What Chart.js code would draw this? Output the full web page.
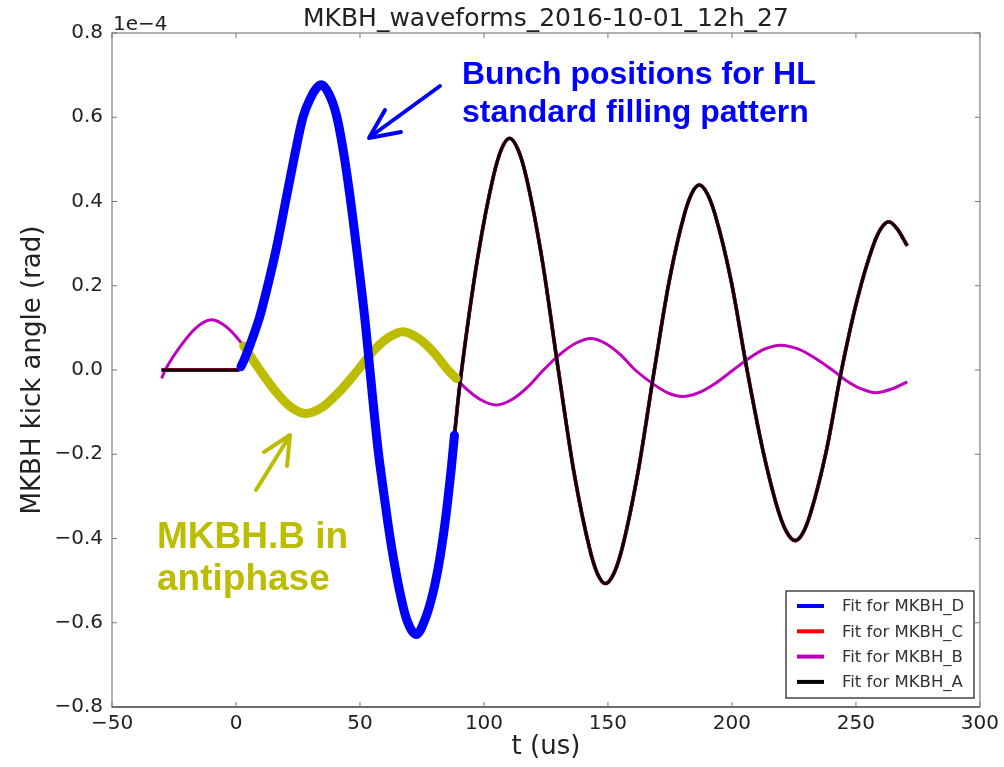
<!DOCTYPE html>
<html>
<head>
<meta charset="utf-8">
<script src="https://cdn.jsdelivr.net/npm/chart.js@4.4.1/dist/chart.umd.min.js"></script>
<style>
  html, body { margin: 0; padding: 0; background: #fff; }
  #wrap { width: 1004px; height: 767px; }
</style>
</head>
<body>
<div id="wrap"><canvas id="kickChart" width="1004" height="767"></canvas></div>
<script>
// valeurs (angle en 1e-4 rad, t en us)

// MKBH_A (C et D se superposent presque exactement)
const tA = [-30, 0.9, 2, 3, 6, 9.5, 13, 16.5, 20, 23.5, 27, 30, 32.3, 34.5,
  37.5, 40.5, 43, 45.8, 49.2, 52.3, 54,
  55.6, 57.3, 59.3, 61.3, 63.3, 66, 68.7, 72.7, 76.1, 79.4, 82.1, 84.1, 85.4, 86.8, 88.1, 89.5, 91,
  97.4, 103.9, 107.1, 110.3, 113.6, 116.9, 123.4, 130,
  136.3, 142.7, 145.8, 149, 152.3, 155.6, 162.1, 168.7,
  174.7, 180.8, 183.8, 186.8, 190, 193.2, 199.7, 206.1,
  212.6, 219, 222.3, 225.5, 228.6, 231.7, 238, 244.2,
  250.6, 257, 260.1, 263.3, 266.5, 270.7];
const kickA = [0, 0, 0.008, 0.02, 0.065, 0.125, 0.205, 0.295, 0.40, 0.505, 0.6, 0.645, 0.668, 0.677,
  0.655, 0.605, 0.53, 0.42, 0.261, 0.103, 0,
  -0.095, -0.19, -0.28, -0.365, -0.44, -0.525, -0.59, -0.628, -0.594, -0.53, -0.451, -0.372, -0.31, -0.235, -0.155, -0.075, 0,
  0.264, 0.462, 0.525, 0.55, 0.525, 0.462, 0.264, 0,
  -0.243, -0.426, -0.484, -0.507, -0.484, -0.426, -0.243, 0,
  0.211, 0.369, 0.419, 0.439, 0.419, 0.369, 0.211, 0,
  -0.194, -0.340, -0.387, -0.405, -0.387, -0.340, -0.194, 0,
  0.169, 0.296, 0.336, 0.352, 0.336, 0.295];
const kickC = kickA;
const kickD = kickA;

// MKBH_B
const tB = [-30, -28.5, -22.3, -16.1, -9.9, -3.4, 3.1, 9.6, 15.7, 21.9,
  28, 35.1, 42.1, 49.2, 55.2, 61.2, 67.3, 73.4, 79.4, 85.5,
  88.8, 92, 98.5, 105, 111.3, 117.7, 124, 130.4, 136.8, 143.2,
  149.1, 155.1, 161, 167.5, 173.7, 180.1, 186.9, 193.7, 200.5, 206.9,
  213.3, 219.7, 226.6, 233.6, 240.5, 246.3, 252.2, 258, 264.5, 270.7];
const kickB = [-0.02, 0, 0.057, 0.1, 0.119, 0.1, 0.057, 0, -0.049, -0.087,
  -0.103, -0.087, -0.049, 0, 0.044, 0.076, 0.091, 0.076, 0.044, 0,
  -0.02, -0.04, -0.07, -0.083, -0.07, -0.04, 0, 0.036, 0.063, 0.075,
  0.063, 0.036, 0, -0.03, -0.053, -0.063, -0.053, -0.03, 0, 0.028,
  0.05, 0.059, 0.05, 0.028, 0, -0.026, -0.045, -0.054, -0.045, -0.028];

// fenêtre des paquets (HL standard filling pattern)
const bunchFrom = 2, bunchTo = 88.1;
const antiFrom = 3, antiTo = 89;

const xTicks = [-50, 0, 50, 100, 150, 200, 250, 300];
const yTicks = [-0.8, -0.6, -0.4, -0.2, 0, 0.2, 0.4, 0.6, 0.8];

const legendItems = [
  { label: 'Fit for MKBH_D', color: '#0000ff' },
  { label: 'Fit for MKBH_C', color: '#ff0000' },
  { label: 'Fit for MKBH_B', color: '#bf00bf' },
  { label: 'Fit for MKBH_A', color: '#000000' }
];

const pts = (ts, vs) => ts.map((t, i) => ({ x: t, y: vs[i] }));
const within = (arr, a, b) => arr.filter(p => p.x >= a && p.x <= b);

// signe moins typographique comme matplotlib
const minus = s => s.replace('-', '\u2212');

const line = (ctx, x1, y1, x2, y2) => {
  ctx.beginPath(); ctx.moveTo(x1, y1); ctx.lineTo(x2, y2); ctx.stroke();
};

// cadre, petites graduations, légende et annotations
const decor = {
  id: 'decor',
  afterDatasetsDraw(chart) {
    const { ctx, chartArea: a, scales: { x, y } } = chart;
    ctx.save();
    ctx.lineWidth = 1.5;
    ctx.strokeStyle = '#9a9a9a';
    ctx.strokeRect(a.left, a.top, a.right - a.left, a.bottom - a.top);
    ctx.strokeStyle = '#555';
    line(ctx, a.left, a.bottom, a.right, a.bottom);

    ctx.strokeStyle = '#777';
    ctx.lineWidth = 1;
    xTicks.forEach(v => {
      const px = x.getPixelForValue(v);
      line(ctx, px, a.top, px, a.top + 5);
      line(ctx, px, a.bottom, px, a.bottom - 5);
    });
    yTicks.forEach(v => {
      const py = y.getPixelForValue(v);
      line(ctx, a.left, py, a.left + 5, py);
      line(ctx, a.right, py, a.right - 5, py);
    });

    // légende
    ctx.fillStyle = '#fff';
    ctx.fillRect(786, 591, 188, 107);
    ctx.strokeStyle = '#444';
    ctx.lineWidth = 1.5;
    ctx.strokeRect(786, 591, 188, 107);
    ctx.font = '16.5px "DejaVu Sans"';
    ctx.textBaseline = 'middle';
    ctx.textAlign = 'left';
    legendItems.forEach((it, i) => {
      const yy = 606 + i * 25.3;
      ctx.strokeStyle = it.color;
      ctx.lineWidth = 4;
      line(ctx, 797, yy, 824, yy);
      ctx.fillStyle = '#333';
      ctx.fillText(it.label, 842, yy + 1);
    });

    // flèches
    ctx.lineCap = 'round';
    ctx.lineJoin = 'round';
    ctx.lineWidth = 4;
    ctx.strokeStyle = '#0000ff';
    line(ctx, 440, 86, 370, 137);
    ctx.beginPath(); ctx.moveTo(385, 110); ctx.lineTo(369, 138); ctx.lineTo(401, 132); ctx.stroke();
    ctx.strokeStyle = '#bcbc00';
    line(ctx, 256, 490, 289, 437);
    ctx.beginPath(); ctx.moveTo(264, 452); ctx.lineTo(290, 435); ctx.lineTo(287, 466); ctx.stroke();
    ctx.restore();
  },
  afterDraw(chart) {
    const { ctx, chartArea: a } = chart;
    ctx.save();
    ctx.fillStyle = '#222';
    ctx.textAlign = 'center';
    ctx.textBaseline = 'alphabetic';
    ctx.font = '25px "DejaVu Sans"';
    ctx.fillText('MKBH_waveforms_2016-10-01_12h_27', (a.left + a.right) / 2, 26);
    ctx.font = '26px "DejaVu Sans"';
    ctx.fillText('t (us)', (a.left + a.right) / 2, 754);
    ctx.textAlign = 'left';
    ctx.font = '20px "DejaVu Sans"';
    ctx.fillText('1e\u22124', 113, 30);

    ctx.save();
    ctx.translate(40, (a.top + a.bottom) / 2);
    ctx.rotate(-Math.PI / 2);
    ctx.textAlign = 'center';
    ctx.font = '26px "DejaVu Sans"';
    ctx.fillText('MKBH kick angle (rad)', 0, 0);
    ctx.restore();

    ctx.font = 'bold 32px "Liberation Sans"';
    ctx.fillStyle = '#0000ff';
    ctx.fillText('Bunch positions for HL', 462, 84);
    ctx.fillText('standard filling pattern', 462, 122);
    ctx.font = 'bold 37px "Liberation Sans"';
    ctx.fillStyle = '#bcbc00';
    ctx.fillText('MKBH.B in', 157, 548);
    ctx.fillText('antiphase', 157, 590);
    ctx.restore();
  }
};

document.addEventListener('DOMContentLoaded', () => {
  const lineA = pts(tA, kickA);
  const lineB = pts(tB, kickB);
  const common = { pointRadius: 0, fill: false, cubicInterpolationMode: 'monotone', borderJoinStyle: 'round' };

  new Chart(document.getElementById('kickChart'), {
    type: 'line',
    data: {
      // le premier dataset est dessiné au-dessus
      datasets: [
        { ...common, label: 'bunches', data: within(lineA, bunchFrom, bunchTo), borderColor: '#0000ff', borderWidth: 9, borderCapStyle: 'round' },
        { ...common, label: 'antiphase', data: within(lineB, antiFrom, antiTo), borderColor: '#bcbc00', borderWidth: 9, borderCapStyle: 'round' },
        { ...common, label: 'Fit for MKBH_A', data: lineA, borderColor: '#000000', borderWidth: 3 },
        { ...common, label: 'Fit for MKBH_B', data: lineB, borderColor: '#bf00bf', borderWidth: 3 },
        { ...common, label: 'Fit for MKBH_C', data: pts(tA, kickC), borderColor: '#ff0000', borderWidth: 3.6 },
        { ...common, label: 'Fit for MKBH_D', data: pts(tA, kickD), borderColor: '#0000ff', borderWidth: 3.6 }
      ]
    },
    options: {
      responsive: false,
      animation: false,
      devicePixelRatio: 1,
      layout: { padding: { top: 33, right: 23, left: 0, bottom: 0 } },
      scales: {
        x: {
          type: 'linear',
          min: -50, max: 300,
          afterFit: s => { s.height = 60; },
          afterBuildTicks: s => { s.ticks = xTicks.map(v => ({ value: v })); },
          grid: { display: false, drawTicks: false },
          border: { display: false },
          ticks: { padding: 5, color: '#222', font: { family: 'DejaVu Sans', size: 20 }, maxRotation: 0,
            callback: v => minus(String(v)) }
        },
        y: {
          type: 'linear',
          min: -0.8, max: 0.8,
          afterFit: s => { s.width = 112; },
          afterBuildTicks: s => { s.ticks = yTicks.map(v => ({ value: v })); },
          grid: { display: false, drawTicks: false },
          border: { display: false },
          ticks: { padding: 9, color: '#222', font: { family: 'DejaVu Sans', size: 20 },
            callback: v => Math.abs(v) < 1e-9 ? '0.0' : minus(Number(v).toFixed(1)) }
        }
      },
      plugins: {
        legend: { display: false },
        tooltip: { enabled: false }
      }
    },
    plugins: [decor]
  });
});
</script>
</body>
</html>
